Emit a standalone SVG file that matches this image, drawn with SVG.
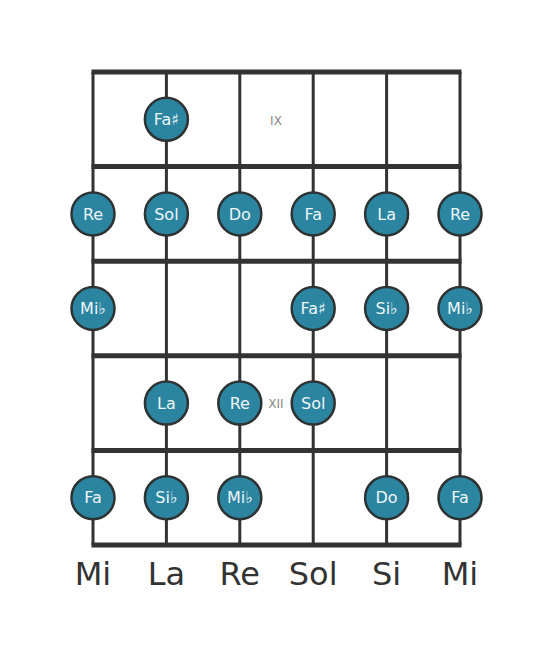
<svg xmlns="http://www.w3.org/2000/svg" width="553" height="656" viewBox="0 0 553 656">
<style>
.str{stroke:#333;stroke-width:3;fill:none}
.fret{stroke:#333;stroke-width:5;fill:none}
.n circle{fill:#2b84a0;stroke:#2d3333;stroke-width:2.5}
.n text{fill:#eef6f8;font-family:"DejaVu Sans",sans-serif;font-size:16px;text-anchor:middle}
.pos{fill:#888;font-family:"DejaVu Sans",sans-serif;font-size:12px;text-anchor:middle}
.lab{fill:#333;font-family:"DejaVu Sans",sans-serif;font-size:32px;text-anchor:middle}
</style>
<rect width="553" height="656" fill="#fff"/>
<g id="board">
<line class="str" x1="93" y1="72" x2="93" y2="545"/>
<line class="str" x1="166.4" y1="72" x2="166.4" y2="545"/>
<line class="str" x1="239.8" y1="72" x2="239.8" y2="545"/>
<line class="str" x1="313.2" y1="72" x2="313.2" y2="545"/>
<line class="str" x1="386.6" y1="72" x2="386.6" y2="545"/>
<line class="str" x1="460" y1="72" x2="460" y2="545"/>
<line class="fret" x1="91.5" y1="72" x2="461.5" y2="72"/>
<line class="fret" x1="91.5" y1="166.6" x2="461.5" y2="166.6"/>
<line class="fret" x1="91.5" y1="261.2" x2="461.5" y2="261.2"/>
<line class="fret" x1="91.5" y1="355.8" x2="461.5" y2="355.8"/>
<line class="fret" x1="91.5" y1="450.4" x2="461.5" y2="450.4"/>
<line class="fret" x1="91.5" y1="545" x2="461.5" y2="545"/>
</g>
<text class="pos" x="276" y="125">IX</text>
<text class="pos" x="276" y="408">XII</text>
<g id="n1" class="n"><circle cx="166.4" cy="119.3" r="21.5"/><text x="166.4" y="125">Fa♯</text></g>
<g id="n2" class="n"><circle cx="93" cy="213.9" r="21.5"/><text x="93" y="219.5">Re</text></g>
<g id="n3" class="n"><circle cx="166.4" cy="213.9" r="21.5"/><text x="166.4" y="219.5">Sol</text></g>
<g id="n4" class="n"><circle cx="239.8" cy="213.9" r="21.5"/><text x="239.8" y="219.5">Do</text></g>
<g id="n5" class="n"><circle cx="313.2" cy="213.9" r="21.5"/><text x="313.2" y="219.5">Fa</text></g>
<g id="n6" class="n"><circle cx="386.6" cy="213.9" r="21.5"/><text x="386.6" y="219.5">La</text></g>
<g id="n7" class="n"><circle cx="460" cy="213.9" r="21.5"/><text x="460" y="219.5">Re</text></g>
<g id="n8" class="n"><circle cx="93" cy="308.5" r="21.5"/><text x="93" y="314">Mi♭</text></g>
<g id="n9" class="n"><circle cx="313.2" cy="308.5" r="21.5"/><text x="313.2" y="314">Fa♯</text></g>
<g id="n10" class="n"><circle cx="386.6" cy="308.5" r="21.5"/><text x="386.6" y="314">Si♭</text></g>
<g id="n11" class="n"><circle cx="460" cy="308.5" r="21.5"/><text x="460" y="314">Mi♭</text></g>
<g id="n12" class="n"><circle cx="166.4" cy="403.1" r="21.5"/><text x="166.4" y="408.7">La</text></g>
<g id="n13" class="n"><circle cx="239.8" cy="403.1" r="21.5"/><text x="239.8" y="408.7">Re</text></g>
<g id="n14" class="n"><circle cx="313.2" cy="403.1" r="21.5"/><text x="313.2" y="408.7">Sol</text></g>
<g id="n15" class="n"><circle cx="93" cy="497.7" r="21.5"/><text x="93" y="503.3">Fa</text></g>
<g id="n16" class="n"><circle cx="166.4" cy="497.7" r="21.5"/><text x="166.4" y="503.3">Si♭</text></g>
<g id="n17" class="n"><circle cx="239.8" cy="497.7" r="21.5"/><text x="239.8" y="503.3">Mi♭</text></g>
<g id="n18" class="n"><circle cx="386.6" cy="497.7" r="21.5"/><text x="386.6" y="503.3">Do</text></g>
<g id="n19" class="n"><circle cx="460" cy="497.7" r="21.5"/><text x="460" y="503.3">Fa</text></g>
<g id="labels">
<text class="lab" x="93" y="585">Mi</text>
<text class="lab" x="166.4" y="585">La</text>
<text class="lab" x="239.8" y="585">Re</text>
<text class="lab" x="313.2" y="585">Sol</text>
<text class="lab" x="386.6" y="585">Si</text>
<text class="lab" x="460" y="585">Mi</text>
</g>
</svg>
